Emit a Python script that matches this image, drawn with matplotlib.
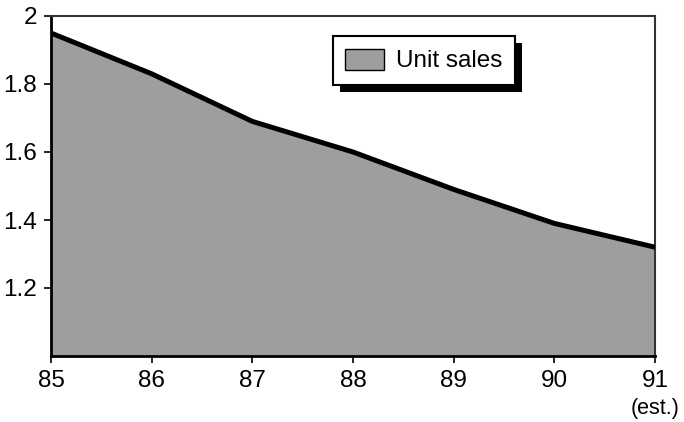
import matplotlib
matplotlib.use("Agg")
import matplotlib.pyplot as plt
from matplotlib.patches import Rectangle
from matplotlib.transforms import IdentityTransform

years = [85, 86, 87, 88, 89, 90, 91]
unit_sales = [1.95, 1.83, 1.69, 1.60, 1.49, 1.39, 1.32]
xtick_labels = ["85", "86", "87", "88", "89", "90", "91"]
yticks = [1.2, 1.4, 1.6, 1.8, 2.0]
ytick_labels = ["1.2", "1.4", "1.6", "1.8", "2"]

plt.rcParams['font.family'] = ['Liberation Sans', 'DejaVu Sans']

fig = plt.figure(figsize=(6.84, 4.22), dpi=100)
ax = fig.add_axes([51/684, 66/422, 604/684, 340/422])

fill = ax.fill_between(years, 1.0, unit_sales, color='#9e9e9e', linewidth=0, label='Unit sales')
ax.plot(years, unit_sales, color='black', linewidth=3.6, solid_capstyle='butt', zorder=3)

ax.set_xlim(85, 91)
ax.set_ylim(1.0, 2.0)
ax.set_xticks(years)
ax.set_xticklabels(xtick_labels)
ax.set_yticks(yticks)
ax.set_yticklabels(ytick_labels)
ax.tick_params(axis='both', direction='out', length=5, width=1.2, labelsize=17.5, pad=5, colors='black')

for side in ['left', 'bottom']:
    ax.spines[side].set_linewidth(2.0)
for side in ['top', 'right']:
    ax.spines[side].set_linewidth(1.5)
    ax.spines[side].set_color('#333333')

fig.text(680/684, 1 - 398/422, "(est.)", ha='right', va='top', fontsize=15.5)

leg = ax.legend(handles=[fill], loc='upper left', bbox_to_anchor=(0.467, 0.94),
                fontsize=17.5, frameon=True, fancybox=False, edgecolor='black',
                facecolor='white', framealpha=1.0,
                handlelength=1.6, handleheight=0.95, handletextpad=0.5,
                borderpad=0.5, borderaxespad=0)
leg.get_frame().set_linewidth(1.5)
leg.legend_handles[0].set_edgecolor('black')
leg.legend_handles[0].set_linewidth(1.0)
leg.set_zorder(10)

fig.canvas.draw()
bb = leg.get_window_extent()
shadow = Rectangle((bb.x0 + 7, bb.y0 - 7), bb.width, bb.height, transform=IdentityTransform(),
                   facecolor='black', edgecolor='none', zorder=9, clip_on=False)
ax.add_artist(shadow)

fig.savefig("out.png", dpi=100)
